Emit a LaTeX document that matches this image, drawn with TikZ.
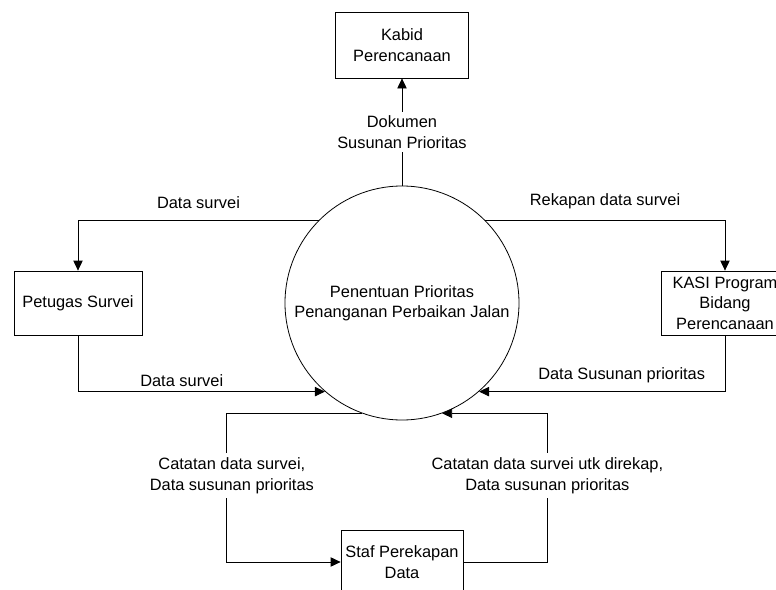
\documentclass[tikz,border=0pt]{standalone}
\usepackage{fontspec}
\setmainfont{Liberation Sans}
\usetikzlibrary{arrows.meta}

\begin{document}
\begin{tikzpicture}[-,>={Triangle[length=7.5pt,width=7pt]},line width=0.6pt,
  font=\fontsize{12.3}{15.3}\selectfont,
  proc node/.style={circle,draw,minimum size=175.5pt,align=center,inner sep=0pt},
  ent node/.style={rectangle,draw,minimum width=96pt,minimum height=48pt,align=center},
  flow label/.style={fill=white,align=center}]
  \useasboundingbox (-301.5pt,-215.25pt) rectangle (280.5pt,227.25pt);
  \node[proc node] (proc) {Penentuan Prioritas\\Penanganan Perbaikan Jalan};
  \node[ent node] (kabid) [node distance=193.5pt,above of=proc,minimum width=99.75pt,minimum height=49.5pt] {Kabid\\Perencanaan};
  \node[ent node] (petugas) [node distance=243pt,left of=proc] {Petugas Survei};
  \node[ent node] (kasi) [node distance=242.25pt,right of=proc] {KASI Program\\Bidang\\Perencanaan};
  \node[ent node] (staf) [node distance=194.25pt,below of=proc,minimum width=90.75pt] {Staf Perekapan\\Data};

  \draw[->] (proc.north) -- node[flow label,inner sep=2.5pt] {Dokumen\\Susunan Prioritas} (kabid.south);
  \draw[->] (proc.135) -| node[pos=0.25,above=5pt] {Data survei} (petugas.north);
  \draw[->] (petugas.south) |- node[pos=0.71,above] {Data survei} (proc.229);
  \draw[->] (proc.45) -| node[pos=0.25,above=5pt] {Rekapan data survei} (kasi.north);
  \draw[->] (kasi.south) |- node[pos=0.71,above=3pt] {Data Susunan prioritas} (proc.311);
  \draw[->] (proc.250) -- ++(-101.25pt,0) |- node[pos=0.21,flow label,xshift=3.75pt] {Catatan data survei,\\Data susunan prioritas} (staf.west);
  \draw[->] (staf.east) -- ++(63pt,0) |- node[pos=0.29,flow label] {Catatan data survei utk direkap,\\Data susunan prioritas} (proc.290);
\end{tikzpicture}
\end{document}
